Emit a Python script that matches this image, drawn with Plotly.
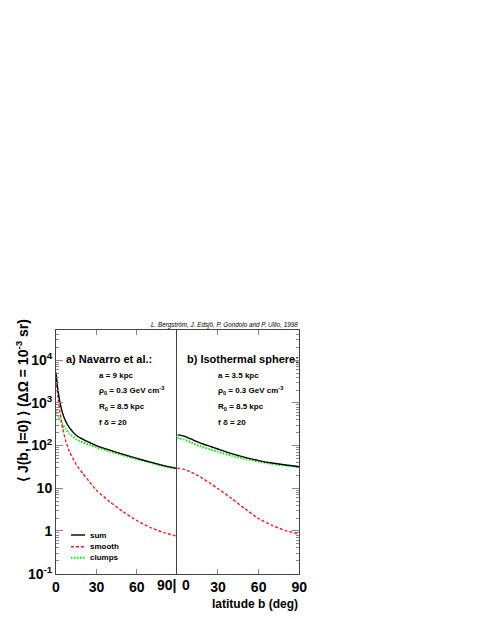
import plotly.graph_objects as go

# ---------------- data ----------------
nfw_b = [0, 0.5, 1, 2, 3, 5, 7, 10, 15, 20, 25, 30, 40, 50, 60, 70, 80, 90]
nfw_sum = [5200, 3600, 2500, 1500, 1000, 560, 380, 260, 175, 140, 118, 100, 78, 62, 50, 41, 34, 29]
nfw_smooth = [4500, 3000, 1900, 1000, 600, 250, 135, 72, 36, 22, 14, 9, 4.8, 2.8, 1.75, 1.2, 0.92, 0.75]
nfw_clumps = [700, 620, 560, 470, 400, 310, 250, 190, 140, 118, 104, 91, 73, 59, 48, 40, 33, 28]

iso_b = [0, 2, 5, 10, 15, 20, 25, 30, 40, 50, 60, 70, 80, 90]
iso_sum = [178, 176, 166, 143, 122, 106, 94, 83, 65, 53, 44.5, 39, 35, 32]
iso_smooth = [29.5, 29.3, 27.8, 24, 20, 16, 12.6, 9.8, 5.8, 3.3, 1.95, 1.35, 1.02, 0.85]
iso_clumps = [148, 147, 139, 119, 102, 90, 81, 72, 58, 49, 42, 37, 34, 31]

x_ticks = [0, 30, 60, 90]
y_ticks = [0.1, 1, 10, 100, 1000, 10000]
y_ticktext = ["10<sup>-1</sup>", "1", "10", "10<sup>2</sup>", "10<sup>3</sup>", "10<sup>4</sup>"]
series_names = ["sum", "smooth", "clumps"]

# ---------------- styling ----------------
W, H = 479, 619
OFF = 8  # default page margin around the plot div
FW, FH = W - OFF, H - OFF
FONT = "Liberation Sans"
styles = {
    "sum": dict(color="black", width=1.4, dash="solid"),
    "smooth": dict(color="#ff1a1a", width=1.4, dash="3px,2px"),
    "clumps": dict(color="#00ee00", width=2, dash="1.5px,1.5px"),
}


def px(x):
    return (x - OFF) / FW


def py(y):
    return 1 - (y - OFF) / FH


fig = go.Figure()
for name, ys in zip(series_names, [nfw_sum, nfw_smooth, nfw_clumps]):
    fig.add_trace(go.Scatter(x=nfw_b, y=ys, mode="lines", name=name, xaxis="x", yaxis="y",
                             line=dict(shape="spline", smoothing=0.5, **styles[name]), showlegend=False))
for name, ys in zip(series_names, [iso_sum, iso_smooth, iso_clumps]):
    fig.add_trace(go.Scatter(x=iso_b, y=ys, mode="lines", name=name, xaxis="x2", yaxis="y2",
                             line=dict(shape="spline", smoothing=0.5, **styles[name]), showlegend=False))

# draw sum on top
fig.data = tuple([fig.data[i] for i in [2, 1, 0, 5, 4, 3]])

xl, xm, xr = 56, 177.3, 299.3
yt, yb = 330.3, 573.7
minor_vals = [k * 10 ** e for e in range(-1, 5) for k in range(2, 10)]
frame = "#444"
tickc = "#888"
tickfont = dict(family=FONT, size=14, color="black", weight="bold")

xcommon = dict(range=[0, 90], tickvals=x_ticks, ticks="inside", ticklen=5, tickcolor=tickc,
               showline=True, linecolor=frame, linewidth=1, mirror="ticks", showgrid=False,
               zeroline=False, tickfont=tickfont, fixedrange=True)
ycommon = dict(type="log", range=[-1, 4.699], tickvals=y_ticks, ticktext=y_ticktext,
               ticks="inside", ticklen=7, tickcolor=tickc, showline=True, linecolor=frame,
               linewidth=1, showgrid=False, zeroline=False, tickfont=tickfont,
               minor=dict(tickvals=minor_vals, ticks="inside", ticklen=3, tickcolor=tickc, showgrid=False))

fig.update_layout(
    width=FW, height=FH, margin=dict(l=0, r=0, t=0, b=0, autoexpand=False),
    paper_bgcolor="white", plot_bgcolor="white", showlegend=False,
    font=dict(family=FONT, color="black"),
    xaxis=dict(domain=[px(xl), px(xm)], anchor="y", ticktext=["0", "30", "60", ""], **xcommon),
    xaxis2=dict(domain=[px(xm), px(xr)], anchor="y2", ticktext=["", "30", "60", "90"], **xcommon),
    yaxis=dict(domain=[py(yb), py(yt)], anchor="x", mirror=False, showticklabels=True, **ycommon),
    yaxis2=dict(domain=[py(yb), py(yt)], anchor="x2", matches="y", side="right", mirror=True,
                showticklabels=False, **ycommon),
)

ann = []


def text(x, y, s, size, anchor="left", bold=True, italic=False, angle=0):
    ann.append(dict(x=px(x), y=py(y), xref="paper", yref="paper", text=s, showarrow=False,
                    xanchor=anchor, yanchor="middle", textangle=angle,
                    font=dict(family=FONT, size=size, color="black",
                              weight="bold" if bold else "normal",
                              style="italic" if italic else "normal")))


# special tick labels at the panel junction
ann.append(dict(x=90, y=py(584.5), xref="x", yref="paper", text="90|", showarrow=False,
                xanchor="right", yanchor="middle", xshift=2, font=tickfont))
ann.append(dict(x=0, y=py(584.5), xref="x2", yref="paper", text="0", showarrow=False,
                xanchor="left", yanchor="middle", xshift=3, font=tickfont))

text(299.5, 324.5, "L. Bergström, J. Edsjö, P. Gondolo and P. Ullio, 1998", 6.3, anchor="right",
     bold=False, italic=True)
text(22, 401, "⟨ J(b, l=0) ⟩ (ΔΩ = 10<sup>-3</sup> sr)", 14, anchor="center", angle=-90)
text(299.5, 603.5, "latitude b (deg)", 12, anchor="right")

text(64, 358.5, "a) Navarro et al.:", 11)
text(96.5, 375.7, "a = 9 kpc", 8)
text(96.5, 390.5, "ρ<sub>0</sub> = 0.3 GeV cm<sup>-3</sup>", 8)
text(96.5, 406.5, "R<sub>0</sub> = 8.5 kpc", 8)
text(96.5, 422.3, "f δ = 20", 8)

text(184.5, 358.5, "b) Isothermal sphere:", 11)
text(216, 375.7, "a = 3.5 kpc", 8)
text(216, 390.5, "ρ<sub>0</sub> = 0.3 GeV cm<sup>-3</sup>", 8)
text(216, 406.5, "R<sub>0</sub> = 8.5 kpc", 8)
text(216, 422.3, "f δ = 20", 8)

# legend (drawn by hand for ROOT-like compact spacing)
shapes = []
for name, yy in zip(series_names, [535, 546.7, 557.7]):
    st = styles[name]
    shapes.append(dict(type="line", xref="paper", yref="paper", x0=px(71), x1=px(85), y0=py(yy), y1=py(yy),
                       line=dict(color=st["color"], width=st["width"], dash=st["dash"])))
    text(88, yy, name, 8)

fig.update_layout(annotations=ann, shapes=shapes)
fig.write_html("out.html")
